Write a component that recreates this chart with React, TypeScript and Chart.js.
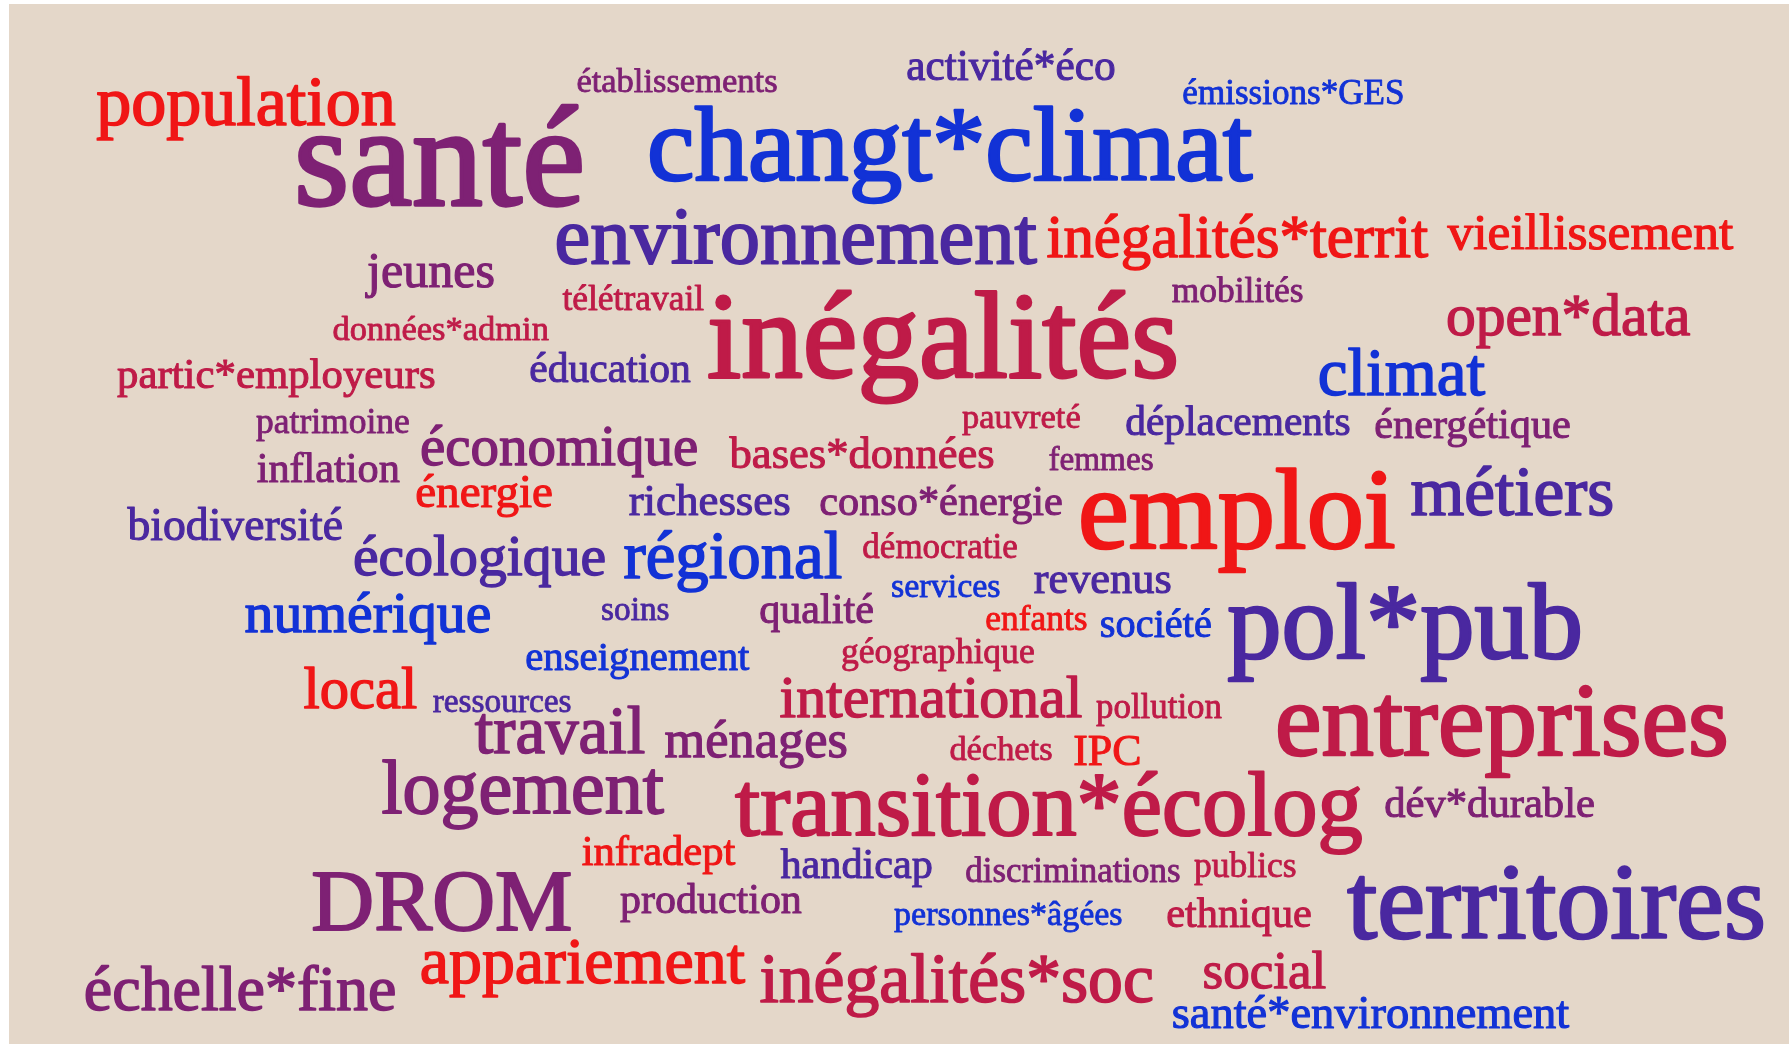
import React, { useEffect, useRef } from "react";
import { Chart, registerables } from "chart.js";

Chart.register(...registerables);

// Words of the cloud
const words: string[] = [
  "population", "établissements", "activité*éco", "émissions*GES", "santé", "changt*climat",
  "environnement", "inégalités*territ", "vieillissement", "jeunes", "télétravail", "mobilités",
  "données*admin", "inégalités", "open*data", "partic*employeurs", "éducation", "climat",
  "patrimoine", "pauvreté", "déplacements", "énergétique", "inflation", "économique",
  "bases*données", "femmes", "énergie", "richesses", "conso*énergie", "emploi",
  "métiers", "biodiversité", "écologique", "régional", "démocratie", "revenus",
  "services", "numérique", "soins", "qualité", "enfants", "société",
  "pol*pub", "enseignement", "géographique", "local", "ressources", "international",
  "pollution", "entreprises", "travail", "ménages", "déchets", "IPC",
  "logement", "transition*écolog", "dév*durable", "infradept", "handicap", "discriminations",
  "publics", "DROM", "production", "personnes*âgées", "ethnique", "territoires",
  "échelle*fine", "appariement", "inégalités*soc", "social", "santé*environnement",
];

// Layout of each word (cloud coordinates): left edge, right edge, baseline
const xStart: number[] = [
  96, 577, 907, 1183, 298, 649,
  556, 1047, 1447, 365, 562, 1172,
  333, 708, 1447, 117, 530, 1319,
  256, 962, 1126, 1375, 257, 421,
  729, 1049, 416, 629, 820, 1080,
  1411, 127, 354, 624, 863, 1034,
  892, 245, 602, 760, 986, 1101,
  1227, 526, 842, 304, 433, 780,
  1096, 1277, 474, 665, 950, 1074,
  382, 734, 1385, 582, 780, 966,
  1194, 312, 620, 894, 1167, 1346,
  85, 421, 760, 1204, 1173,
];
const xEnd: number[] = [
  396, 777, 1115, 1403, 582, 1254,
  1038, 1429, 1734, 494, 704, 1303,
  549, 1177, 1691, 435, 691, 1486,
  409, 1080, 1350, 1570, 400, 697,
  994, 1153, 552, 790, 1062, 1395,
  1613, 342, 605, 842, 1017, 1171,
  1000, 490, 669, 873, 1087, 1211,
  1581, 750, 1034, 417, 571, 1082,
  1222, 1727, 645, 847, 1052, 1140,
  665, 1363, 1594, 736, 932, 1180,
  1296, 571, 802, 1122, 1311, 1764,
  395, 746, 1153, 1326, 1570,
];
const baseline: number[] = [
  125, 92, 80, 104, 205, 180,
  263, 257, 249, 287, 310, 302,
  340, 377, 335, 388, 382, 395,
  433, 428, 435, 438, 482, 465,
  468, 470, 507, 515, 515, 548,
  515, 540, 575, 578, 558, 593,
  597, 632, 620, 623, 630, 637,
  658, 670, 663, 708, 712, 717,
  718, 755, 753, 757, 760, 765,
  813, 835, 817, 865, 878, 882,
  877, 930, 913, 925, 927, 938,
  1010, 983, 1002, 988, 1028,
];
// Colour group of each word: 0 red, 1 crimson, 2 purple, 3 indigo, 4 blue
const colourGroup: number[] = [
  0, 2, 3, 4, 2, 4,
  3, 0, 0, 2, 1, 2,
  1, 1, 1, 1, 3, 4,
  2, 1, 3, 2, 2, 2,
  1, 2, 0, 3, 2, 0,
  3, 3, 3, 4, 1, 3,
  4, 4, 3, 2, 0, 4,
  3, 4, 1, 0, 3, 1,
  1, 1, 2, 2, 1, 0,
  2, 1, 2, 0, 3, 2,
  1, 2, 2, 4, 1, 3,
  2, 0, 1, 1, 4,
];
const palette: string[] = ["#f01616", "#bf1b48", "#7e2174", "#4a28a0", "#1232d6"];

const WIDTH = 1789;
const HEIGHT = 1044;
const FONT = '"Liberation Serif", "Times New Roman", serif';
const STROKE_EM = 0.024;

const backgroundPlugin = {
  id: "panelBackground",
  beforeDraw(chart: any) {
    const { ctx } = chart;
    const xs = chart.scales.x;
    const ys = chart.scales.y;
    ctx.save();
    ctx.fillStyle = "#ffffff";
    ctx.fillRect(0, 0, chart.width, chart.height);
    const x0 = xs.getPixelForValue(9);
    const y0 = ys.getPixelForValue(4);
    const x1 = xs.getPixelForValue(WIDTH);
    const y1 = ys.getPixelForValue(HEIGHT);
    ctx.fillStyle = "#e4d7c9";
    ctx.fillRect(x0, y0, x1 - x0, y1 - y0);
    ctx.restore();
  },
};

const wordPlugin = {
  id: "wordCloud",
  afterDatasetsDraw(chart: any) {
    const { ctx } = chart;
    const xs = chart.scales.x;
    const ys = chart.scales.y;
    ctx.save();
    ctx.textBaseline = "alphabetic";
    ctx.textAlign = "left";
    ctx.lineJoin = "round";
    words.forEach((w, i) => {
      const left = xs.getPixelForValue(xStart[i]);
      const right = xs.getPixelForValue(xEnd[i]);
      const base = ys.getPixelForValue(baseline[i]);
      ctx.font = `100px ${FONT}`;
      const m = ctx.measureText(w);
      const visW = m.actualBoundingBoxRight + m.actualBoundingBoxLeft + STROKE_EM * 100;
      const k = (right - left) / visW;
      const size = 100 * k;
      ctx.font = `${size}px ${FONT}`;
      ctx.fillStyle = palette[colourGroup[i]];
      ctx.strokeStyle = palette[colourGroup[i]];
      ctx.lineWidth = STROKE_EM * size;
      const ox = left + (m.actualBoundingBoxLeft + STROKE_EM * 50) * k;
      ctx.fillText(w, ox, base);
      ctx.strokeText(w, ox, base);
    });
    ctx.restore();
  },
};

export default function App() {
  const canvasRef = useRef<HTMLCanvasElement | null>(null);

  useEffect(() => {
    document.body.style.margin = "0";
    const canvas = canvasRef.current;
    if (!canvas) return;
    const chart = new Chart(canvas, {
      type: "scatter",
      data: {
        datasets: [
          {
            label: "mots",
            data: words.map((_, i) => ({ x: xStart[i], y: baseline[i] })),
            pointRadius: 0,
            pointHoverRadius: 0,
          },
        ],
      },
      options: {
        animation: false,
        responsive: false,
        maintainAspectRatio: false,
        devicePixelRatio: 1,
        layout: { padding: 0 },
        events: [],
        scales: {
          x: { type: "linear", min: 0, max: WIDTH, display: false },
          y: { type: "linear", min: 0, max: HEIGHT, reverse: true, display: false },
        },
        plugins: {
          legend: { display: false },
          tooltip: { enabled: false },
          title: { display: false },
        },
      },
      plugins: [backgroundPlugin, wordPlugin],
    });
    return () => chart.destroy();
  }, []);

  return (
    <div style={{ width: WIDTH, height: HEIGHT }}>
      <canvas ref={canvasRef} width={WIDTH} height={HEIGHT} style={{ display: "block" }} />
    </div>
  );
}
